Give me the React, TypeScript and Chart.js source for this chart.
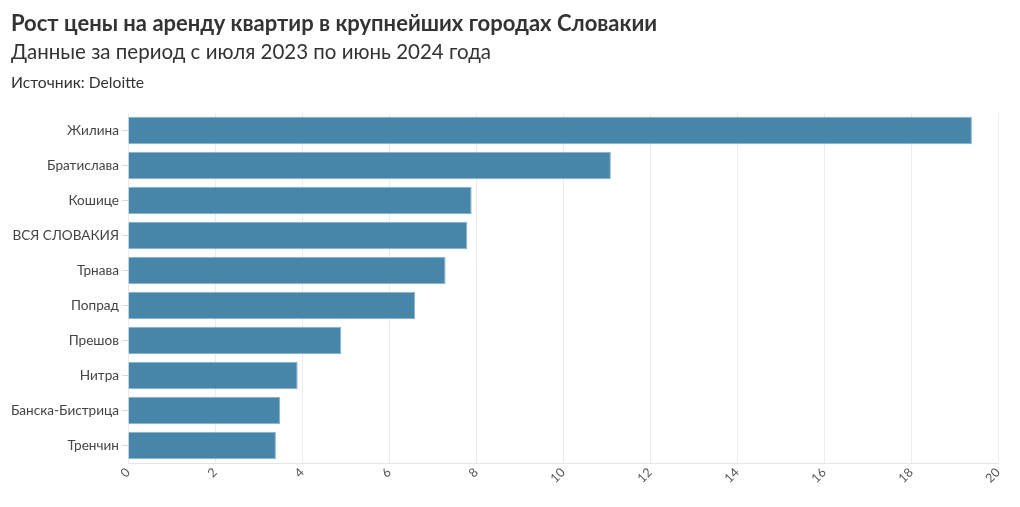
import React, { useEffect, useRef } from "react";
import { Chart, registerables } from "chart.js";

Chart.register(...registerables);

const cities = [
  "Жилина",
  "Братислава",
  "Кошице",
  "ВСЯ СЛОВАКИЯ",
  "Трнава",
  "Попрад",
  "Прешов",
  "Нитра",
  "Банска-Бистрица",
  "Тренчин",
];
const growth = [19.4, 11.1, 7.9, 7.8, 7.3, 6.6, 4.9, 3.9, 3.5, 3.4];

const titleText = "Рост цены на аренду квартир в крупнейших городах Словакии";
const subtitleText = "Данные за период с июля 2023 по июнь 2024 года";
const sourceText = "Источник: Deloitte";

const FONT = "Lato, 'Noto Sans', sans-serif";

export default function App() {
  const ref = useRef<HTMLCanvasElement | null>(null);

  useEffect(() => {
    if (!ref.current) return;
    const chart = new Chart(ref.current, {
      type: "bar",
      data: {
        labels: cities,
        datasets: [
          {
            data: growth,
            backgroundColor: "#4785a9",
            borderColor: "rgba(120,170,200,0.9)",
            borderWidth: 1,
            barPercentage: 0.79,
            categoryPercentage: 1,
          },
        ],
      },
      options: {
        indexAxis: "y",
        animation: false,
        responsive: false,
        maintainAspectRatio: false,
        layout: { padding: { top: 113, left: 8, right: 22, bottom: 0 } },
        plugins: {
          legend: { display: false },
          tooltip: { enabled: false },
        },
        scales: {
          x: {
            min: 0,
            max: 20,
            ticks: {
              stepSize: 2,
              minRotation: 45,
              maxRotation: 45,
              color: "#555",
              font: { family: FONT, size: 12.5 },
              padding: 2,
            },
            grid: { color: "#ececec", tickLength: 6, drawTicks: false },
            border: { color: "#e6e6e6" },
            afterFit: (s: any) => {
              s.height = 44;
            },
          },
          y: {
            ticks: {
              color: "#444",
              font: { family: FONT, size: 13.6 },
              padding: 3,
            },
            grid: {
              offset: false,
              drawOnChartArea: false,
              tickLength: 6,
              color: "#d8d8d8",
            },
            border: { display: false },
            afterFit: (s: any) => {
              s.width = 120;
            },
          },
        },
      },
    });
    return () => chart.destroy();
  }, []);

  return (
    <div
      style={{
        position: "fixed",
        left: 0,
        top: 0,
        width: 1020,
        height: 507,
        background: "#fff",
        fontFamily: FONT,
        color: "#333",
      }}
    >
      <canvas
        ref={ref}
        width={1020}
        height={507}
        style={{ position: "absolute", left: 0, top: 0 }}
      />
      <div
        style={{
          position: "absolute",
          left: 11,
          top: 9,
          fontSize: 22,
          fontWeight: 700,
          whiteSpace: "nowrap",
          lineHeight: "28px",
        }}
      >
        {titleText}
      </div>
      <div
        style={{
          position: "absolute",
          left: 11,
          top: 37,
          fontSize: 20.5,
          whiteSpace: "nowrap",
          lineHeight: "28px",
        }}
      >
        {subtitleText}
      </div>
      <div
        style={{
          position: "absolute",
          left: 11,
          top: 72,
          fontSize: 15.7,
          whiteSpace: "nowrap",
          lineHeight: "20px",
        }}
      >
        {sourceText}
      </div>
    </div>
  );
}
